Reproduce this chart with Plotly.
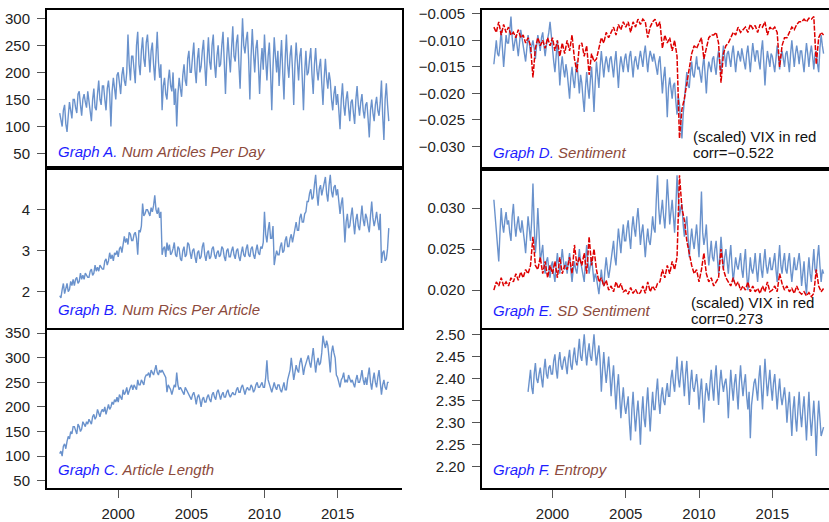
import numpy as np
import plotly.graph_objects as go

W, H = 829, 522
BLUE = "#6A92CC"
RED = "#DD0000"
BROWN = "#8C4A3C"
LABEL_BLUE = "#1E1EFF"

# ---------------- data ----------------
start_main = 1996.0            # monthly series start (Jan 1996)
start_entropy = 1998 + 4 / 12  # entropy starts May 1998
end_year = 2018.5

num_articles = [
    125, 110, 100, 130, 140, 105, 90, 120, 145, 130, 115, 150,
    150, 135, 125, 160, 165, 140, 120, 150, 160, 145, 135, 165,
    145, 125, 110, 150, 170, 135, 130, 160, 185, 150, 140, 175,
    175, 150, 130, 170, 185, 160, 100, 165, 190, 170, 150, 195,
    200, 180, 160, 195, 210, 185, 175, 200, 270, 215, 185, 230,
    230, 205, 180, 250, 275, 215, 195, 240, 265, 225, 210, 255,
    270, 235, 200, 240, 255, 215, 185, 230, 275, 220, 190, 215,
    130, 175, 190, 160, 150, 185, 205, 175, 165, 200, 140, 170,
    100, 160, 190, 170, 155, 195, 215, 185, 175, 225, 240, 200,
    200, 230, 255, 205, 180, 225, 245, 200, 210, 240, 260, 215,
    175, 225, 265, 220, 205, 250, 270, 215, 190, 230, 250, 210,
    215, 250, 275, 220, 160, 225, 265, 230, 200, 245, 285, 230,
    220, 255, 270, 215, 170, 240, 300, 250, 235, 260, 275, 225,
    150, 230, 280, 235, 200, 245, 260, 215, 160, 215, 245, 205,
    270, 225, 185, 230, 255, 200, 130, 210, 265, 230, 200, 240,
    175, 220, 260, 200, 150, 225, 270, 215, 190, 230, 250, 205,
    140, 215, 255, 220, 185, 230, 245, 190, 130, 200, 240, 195,
    200, 225, 245, 195, 160, 215, 245, 205, 185, 210, 225, 180,
    140, 190, 225, 190, 170, 200, 185, 150, 130, 160, 175, 140,
    160, 130, 95, 150, 180, 140, 120, 150, 165, 135, 110, 145,
    150, 125, 105, 150, 175, 140, 120, 145, 160, 130, 115, 140,
    145, 115, 80, 130, 150, 125, 110, 140, 155, 130, 120, 145,
    185, 120, 75, 150, 180, 140, 110,
]

rics_per_article = [
    1.9, 1.85, 2.05, 2.2, 1.95, 2.1, 2.2, 2.0, 2.05, 2.25, 2.15, 2.3,
    2.15, 2.3, 2.35, 2.2, 2.25, 2.45, 2.3, 2.4, 2.3, 2.45, 2.4, 2.35,
    2.35, 2.5, 2.55, 2.4, 2.45, 2.65, 2.5, 2.6, 2.5, 2.65, 2.6, 2.55,
    2.55, 2.75, 2.8, 2.65, 2.75, 2.95, 2.8, 2.9, 2.75, 2.95, 2.9, 3.0,
    2.85, 3.05, 3.1, 2.95, 3.15, 3.35, 3.2, 3.3, 3.15, 3.45, 3.4, 3.25,
    3.25, 3.4, 3.45, 3.3, 2.9, 3.5, 3.45, 3.6, 4.15, 3.85, 3.9, 4.0,
    4.0, 3.9, 3.85, 4.05, 3.95, 4.1, 4.35, 4.0, 3.9, 4.05, 3.8, 3.95,
    2.9, 3.05, 3.1, 2.85, 3.2, 3.0, 3.15, 2.9, 2.95, 3.05, 3.2, 2.9,
    2.85, 3.1, 3.05, 2.8, 2.75, 3.0, 3.1, 2.85, 2.9, 3.2, 3.15, 2.95,
    2.8, 3.0, 3.05, 2.85, 2.7, 2.95, 3.0, 2.8, 2.85, 3.1, 3.2, 2.9,
    2.75, 2.95, 3.0, 2.8, 2.85, 3.05, 3.1, 2.9, 2.8, 2.95, 3.0, 2.85,
    2.9, 3.1, 3.05, 2.85, 2.75, 3.0, 3.05, 2.85, 2.85, 3.0, 3.1, 2.9,
    2.8, 3.0, 3.05, 2.85, 2.75, 2.95, 3.1, 2.9, 2.85, 3.05, 3.15, 2.9,
    2.85, 3.05, 3.1, 2.9, 2.8, 3.0, 3.15, 2.95, 2.9, 3.1, 3.05, 3.2,
    3.95, 3.4, 3.2, 3.5, 3.7, 3.3, 3.3, 3.6, 2.65, 2.85, 3.0, 2.9,
    2.9, 3.1, 3.2, 2.95, 3.0, 3.25, 3.35, 3.1, 3.1, 3.3, 3.4, 3.2,
    3.4, 3.6, 3.7, 3.5, 3.5, 3.8, 3.9, 3.7, 3.7, 3.9, 3.95, 4.2,
    4.2, 4.4, 4.5, 4.25, 4.3, 4.6, 4.85, 4.4, 4.1, 4.5, 4.6, 4.35,
    4.5, 4.7, 4.8, 4.4, 4.2, 4.6, 4.85, 4.45, 4.3, 4.55, 4.6, 4.35,
    4.5, 4.2, 3.9, 4.15, 4.3, 3.8, 3.2, 3.7, 3.9, 3.55, 3.6, 3.85,
    4.05, 3.7, 3.4, 3.75, 3.9, 3.6, 3.5, 3.8, 4.1, 3.75, 3.6, 3.9,
    3.8, 3.6, 3.45, 3.85, 4.2, 3.8, 3.6, 3.75, 3.95, 3.7, 3.5, 3.9,
    2.7, 2.95, 3.0, 2.75, 2.8, 3.05, 3.55,
]

article_length = [
    105, 110, 100, 120, 125, 115, 130, 140, 135, 150, 145, 160,
    160, 150, 145, 165, 160, 150, 155, 170, 165, 160, 170, 165,
    175, 170, 165, 180, 185, 175, 180, 195, 185, 180, 190, 195,
    190, 200, 185, 195, 205, 195, 200, 210, 205, 215, 210, 220,
    210, 225, 220, 215, 235, 225, 230, 240, 225, 235, 240, 245,
    235, 245, 240, 235, 255, 245, 245, 255, 250, 245, 260, 265,
    265, 270, 260, 275, 270, 265, 275, 285, 270, 265, 275, 270,
    275, 270, 265, 260, 230, 245, 240, 235, 225, 235, 245, 240,
    270, 245, 235, 240, 235, 230, 225, 240, 235, 230, 225, 220,
    215, 225, 230, 220, 205, 220, 225, 215, 200, 215, 220, 210,
    210, 220, 225, 215, 210, 225, 230, 220, 215, 230, 235, 225,
    215, 225, 230, 220, 220, 230, 235, 225, 220, 225, 230, 225,
    225, 235, 240, 230, 230, 240, 245, 235, 225, 235, 240, 235,
    235, 245, 240, 230, 235, 245, 250, 240, 240, 245, 250, 240,
    240, 260, 295, 255, 245, 235, 230, 240, 250, 240, 235, 245,
    245, 235, 230, 240, 250, 235, 235, 255, 265, 275, 300, 280,
    255, 270, 285, 275, 270, 290, 300, 285, 265, 280, 290, 300,
    305, 290, 280, 300, 320, 295, 270, 290, 300, 285, 290, 310,
    345, 330, 320, 335, 325, 300, 270, 310, 325, 310, 300, 265,
    260, 250, 240, 255, 260, 270, 250, 255, 250, 265, 255, 250,
    255, 245, 240, 255, 265, 250, 250, 260, 275, 255, 245, 260,
    245, 265, 280, 250, 235, 255, 270, 250, 240, 260, 275, 250,
    225, 245, 255, 240, 235, 250, 250,
]

sentiment = [
    -0.0145, -0.012, -0.010, -0.0125, -0.013, -0.011, -0.008, -0.0115, -0.015, -0.012, -0.009, -0.0105,
    -0.0105, -0.008, -0.0055, -0.0095, -0.012, -0.0105, -0.009, -0.011, -0.013, -0.0105, -0.008, -0.0095,
    -0.011, -0.0125, -0.014, -0.0115, -0.009, -0.0105, -0.0125, -0.011, -0.010, -0.0115, -0.0135, -0.011,
    -0.009, -0.0105, -0.012, -0.0095, -0.0085, -0.011, -0.013, -0.011, -0.010, -0.0085, -0.0065, -0.0095,
    -0.012, -0.014, -0.016, -0.012, -0.010, -0.014, -0.0185, -0.015, -0.013, -0.0155, -0.017, -0.0145,
    -0.016, -0.0185, -0.021, -0.017, -0.015, -0.0175, -0.019, -0.016, -0.014, -0.017, -0.020, -0.0165,
    -0.018, -0.021, -0.0235, -0.019, -0.016, -0.019, -0.021, -0.0175, -0.015, -0.019, -0.0235, -0.018,
    -0.014, -0.0165, -0.019, -0.015, -0.012, -0.0145, -0.017, -0.0145, -0.013, -0.0145, -0.016, -0.0135,
    -0.013, -0.015, -0.017, -0.014, -0.012, -0.0155, -0.019, -0.015, -0.013, -0.0145, -0.016, -0.0135,
    -0.0125, -0.0145, -0.016, -0.013, -0.012, -0.0145, -0.017, -0.014, -0.013, -0.0145, -0.0155, -0.0135,
    -0.012, -0.0135, -0.015, -0.0125, -0.011, -0.0135, -0.016, -0.0135, -0.012, -0.013, -0.014, -0.0125,
    -0.014, -0.0155, -0.0165, -0.014, -0.013, -0.0165, -0.020, -0.017, -0.015, -0.019, -0.0245, -0.019,
    -0.017, -0.019, -0.021, -0.0185, -0.018, -0.0215, -0.024, -0.0205, -0.022, -0.0255, -0.0285, -0.024,
    -0.021, -0.018, -0.016, -0.0185, -0.019, -0.016, -0.014, -0.0165, -0.017, -0.015, -0.013, -0.0155,
    -0.015, -0.0165, -0.018, -0.015, -0.013, -0.0165, -0.020, -0.016, -0.014, -0.015, -0.016, -0.0135,
    -0.013, -0.015, -0.0165, -0.0135, -0.012, -0.0145, -0.016, -0.0135, -0.011, -0.013, -0.015, -0.0125,
    -0.012, -0.0135, -0.015, -0.0125, -0.011, -0.0135, -0.016, -0.0135, -0.012, -0.013, -0.014, -0.0115,
    -0.013, -0.0145, -0.0155, -0.0125, -0.011, -0.0135, -0.016, -0.013, -0.0105, -0.0125, -0.014, -0.012,
    -0.012, -0.014, -0.0155, -0.012, -0.010, -0.014, -0.0185, -0.0145, -0.012, -0.0135, -0.015, -0.0125,
    -0.013, -0.0145, -0.016, -0.0135, -0.011, -0.013, -0.0155, -0.013, -0.012, -0.0135, -0.015, -0.0125,
    -0.012, -0.014, -0.016, -0.0125, -0.010, -0.0125, -0.015, -0.0125, -0.011, -0.0125, -0.0145, -0.012,
    -0.012, -0.014, -0.016, -0.013, -0.0105, -0.0125, -0.015, -0.0125, -0.011, -0.013, -0.0155, -0.0125,
    -0.012, -0.0145, -0.016, -0.0115, -0.009, -0.011, -0.0125,
]

# scaled VIX, 6 samples per year
vix_scaled_sentiment = [
    -0.0075, -0.0085, -0.0065, -0.009, -0.007, -0.0085,
    -0.0075, -0.009, -0.0085, -0.0095, -0.008, -0.0095,
    -0.009, -0.0105, -0.0095, -0.011, -0.017, -0.0115,
    -0.0095, -0.011, -0.010, -0.0115, -0.0095, -0.011,
    -0.0095, -0.012, -0.010, -0.013, -0.0105, -0.0125,
    -0.010, -0.012, -0.009, -0.0135, -0.016, -0.011,
    -0.0105, -0.013, -0.011, -0.0165, -0.0125, -0.014,
    -0.0135, -0.0115, -0.0095, -0.0105, -0.0085, -0.0095,
    -0.0085, -0.0075, -0.009, -0.007, -0.008, -0.0065,
    -0.0075, -0.0065, -0.0085, -0.0065, -0.0075, -0.006,
    -0.007, -0.006, -0.0065, -0.0095, -0.0075, -0.0065,
    -0.006, -0.0075, -0.0065, -0.0115, -0.009, -0.0105,
    -0.0095, -0.012, -0.010, -0.013, -0.0285, -0.023,
    -0.021, -0.018, -0.015, -0.0125, -0.011, -0.0115,
    -0.0105, -0.0095, -0.0135, -0.0115, -0.0095, -0.009,
    -0.009, -0.0085, -0.0105, -0.018, -0.0125, -0.011,
    -0.0105, -0.0095, -0.0085, -0.009, -0.0075, -0.0085,
    -0.008, -0.0075, -0.0085, -0.007, -0.0078, -0.0072,
    -0.0085, -0.007, -0.0075, -0.0065, -0.009, -0.0075,
    -0.008, -0.0075, -0.0085, -0.015, -0.011, -0.0095,
    -0.0095, -0.0085, -0.0075, -0.008, -0.007, -0.0065,
    -0.0065, -0.006, -0.0065, -0.0058, -0.006, -0.0055,
    -0.0145, -0.0095, -0.0085, -0.009,
]

sd_sentiment = [
    0.031, 0.029, 0.0275, 0.0255, 0.0235, 0.027, 0.030, 0.028, 0.027, 0.0285, 0.0295, 0.028,
    0.0285, 0.027, 0.026, 0.029, 0.0305, 0.028, 0.0265, 0.028, 0.029, 0.0275, 0.027, 0.0285,
    0.0275, 0.026, 0.0245, 0.027, 0.029, 0.0275, 0.026, 0.0285, 0.033, 0.028, 0.0245, 0.0265,
    0.030, 0.027, 0.0235, 0.0245, 0.0255, 0.023, 0.022, 0.0235, 0.024, 0.0225, 0.0215, 0.023,
    0.0235, 0.022, 0.021, 0.023, 0.0245, 0.023, 0.022, 0.0235, 0.025, 0.0235, 0.0225, 0.0235,
    0.022, 0.0235, 0.0245, 0.0225, 0.021, 0.0225, 0.0235, 0.0225, 0.022, 0.0235, 0.025, 0.0235,
    0.0225, 0.0215, 0.021, 0.0235, 0.0255, 0.0235, 0.022, 0.023, 0.024, 0.0225, 0.021, 0.022,
    0.0215, 0.0205, 0.0195, 0.021, 0.0225, 0.021, 0.0205, 0.0225, 0.024, 0.0225, 0.0215, 0.0225,
    0.0235, 0.025, 0.026, 0.024, 0.023, 0.0255, 0.0275, 0.026, 0.0245, 0.0265, 0.028, 0.026,
    0.026, 0.0275, 0.0285, 0.0265, 0.025, 0.0275, 0.029, 0.0275, 0.0265, 0.0285, 0.030, 0.028,
    0.0255, 0.027, 0.028, 0.026, 0.024, 0.026, 0.0275, 0.026, 0.0255, 0.027, 0.029, 0.0275,
    0.027, 0.031, 0.034, 0.030, 0.028, 0.0295, 0.031, 0.029, 0.0275, 0.030, 0.0335, 0.031,
    0.028, 0.0295, 0.031, 0.029, 0.027, 0.030, 0.034, 0.0315, 0.029, 0.030, 0.0305, 0.028,
    0.0265, 0.028, 0.029, 0.0265, 0.024, 0.026, 0.0275, 0.026, 0.025, 0.0265, 0.028, 0.026,
    0.024, 0.028, 0.032, 0.027, 0.0255, 0.0265, 0.028, 0.025, 0.023, 0.0245, 0.026, 0.024,
    0.0235, 0.025, 0.026, 0.024, 0.022, 0.024, 0.0265, 0.0245, 0.0225, 0.024, 0.025, 0.0235,
    0.022, 0.024, 0.0255, 0.023, 0.021, 0.0225, 0.024, 0.023, 0.0225, 0.0235, 0.0245, 0.0225,
    0.0215, 0.0235, 0.025, 0.022, 0.020, 0.022, 0.024, 0.0225, 0.022, 0.023, 0.0245, 0.0225,
    0.021, 0.023, 0.0245, 0.0225, 0.0215, 0.0235, 0.025, 0.023, 0.022, 0.023, 0.024, 0.0225,
    0.0225, 0.0235, 0.0245, 0.0225, 0.021, 0.0235, 0.0255, 0.023, 0.022, 0.0235, 0.0245, 0.0225,
    0.022, 0.0235, 0.0245, 0.0225, 0.021, 0.0225, 0.024, 0.0225, 0.0225, 0.0235, 0.0245, 0.023,
    0.0205, 0.022, 0.0235, 0.021, 0.0195, 0.022, 0.024, 0.022, 0.021, 0.023, 0.025, 0.0225,
    0.022, 0.024, 0.0255, 0.023, 0.021, 0.0225, 0.022,
]

vix_scaled_sd = [
    0.020, 0.021, 0.0205, 0.0215, 0.0205, 0.021,
    0.0205, 0.0215, 0.021, 0.022, 0.0212, 0.0222,
    0.0215, 0.0225, 0.022, 0.023, 0.0265, 0.023,
    0.0225, 0.024, 0.022, 0.0235, 0.0215, 0.023,
    0.022, 0.0235, 0.0215, 0.024, 0.022, 0.023,
    0.0225, 0.024, 0.022, 0.0255, 0.023, 0.024,
    0.023, 0.0245, 0.022, 0.0265, 0.023, 0.025,
    0.0225, 0.021, 0.0215, 0.0205, 0.0212, 0.020,
    0.0205, 0.0198, 0.021, 0.0202, 0.0208, 0.0198,
    0.020, 0.0195, 0.0203, 0.0196, 0.0201, 0.0195,
    0.0197, 0.0205, 0.0196, 0.021, 0.0198, 0.0205,
    0.020, 0.0208, 0.021, 0.0225, 0.0215, 0.023,
    0.022, 0.0235, 0.0225, 0.024, 0.034, 0.030,
    0.0285, 0.026, 0.0245, 0.023, 0.022, 0.0225,
    0.021, 0.0225, 0.0245, 0.022, 0.021, 0.0215,
    0.0205, 0.021, 0.0215, 0.025, 0.0225, 0.0215,
    0.021, 0.0205, 0.0215, 0.0205, 0.021, 0.020,
    0.0205, 0.020, 0.021, 0.0198, 0.0205, 0.0198,
    0.0202, 0.0196, 0.0205, 0.0198, 0.021, 0.0198,
    0.020, 0.0205, 0.0198, 0.022, 0.0208, 0.020,
    0.0205, 0.0198, 0.0202, 0.0196, 0.0205, 0.0198,
    0.0195, 0.0198, 0.0193, 0.0197, 0.0192, 0.0196,
    0.0225, 0.0205, 0.0198, 0.0202,
]

entropy = [
    2.37, 2.40, 2.42, 2.38, 2.365, 2.41, 2.435, 2.40,
    2.39, 2.41, 2.425, 2.40, 2.38, 2.42, 2.445, 2.41, 2.40, 2.425, 2.43, 2.41,
    2.41, 2.44, 2.455, 2.42, 2.40, 2.44, 2.46, 2.43, 2.42, 2.44, 2.45, 2.43,
    2.41, 2.445, 2.465, 2.43, 2.42, 2.45, 2.47, 2.44, 2.43, 2.46, 2.49, 2.45,
    2.44, 2.47, 2.50, 2.46, 2.43, 2.46, 2.48, 2.45, 2.44, 2.47, 2.50, 2.46,
    2.43, 2.455, 2.475, 2.44, 2.37, 2.42, 2.46, 2.42, 2.39, 2.42, 2.45, 2.41,
    2.36, 2.40, 2.43, 2.38, 2.33, 2.38, 2.41, 2.36, 2.31, 2.35, 2.38, 2.34,
    2.32, 2.34, 2.36, 2.30, 2.26, 2.33, 2.37, 2.32, 2.28, 2.32, 2.35, 2.31,
    2.25, 2.32, 2.36, 2.31, 2.29, 2.34, 2.38, 2.33, 2.28, 2.33, 2.37, 2.33,
    2.33, 2.37, 2.40, 2.35, 2.32, 2.36, 2.38, 2.35, 2.34, 2.37, 2.39, 2.36,
    2.36, 2.40, 2.42, 2.39, 2.37, 2.41, 2.45, 2.40, 2.38, 2.41, 2.44, 2.40,
    2.36, 2.41, 2.44, 2.39, 2.34, 2.39, 2.42, 2.38, 2.37, 2.39, 2.41, 2.38,
    2.33, 2.37, 2.40, 2.35, 2.30, 2.36, 2.39, 2.37, 2.35, 2.39, 2.42, 2.38,
    2.35, 2.40, 2.43, 2.38, 2.34, 2.39, 2.42, 2.39, 2.37, 2.39, 2.40, 2.37,
    2.31, 2.37, 2.42, 2.38, 2.35, 2.39, 2.41, 2.37, 2.33, 2.39, 2.43, 2.39,
    2.36, 2.39, 2.41, 2.36, 2.33, 2.37, 2.265, 2.34, 2.37, 2.39, 2.40, 2.37,
    2.35, 2.40, 2.43, 2.38, 2.33, 2.39, 2.445, 2.40, 2.36, 2.39, 2.42, 2.38,
    2.35, 2.39, 2.41, 2.37, 2.33, 2.37, 2.40, 2.36, 2.34, 2.36, 2.38, 2.35,
    2.30, 2.34, 2.37, 2.32, 2.27, 2.33, 2.36, 2.31, 2.28, 2.33, 2.37, 2.32,
    2.29, 2.33, 2.36, 2.31, 2.26, 2.32, 2.37, 2.31, 2.27, 2.31, 2.35, 2.30,
    2.225, 2.30, 2.35, 2.31, 2.27, 2.28, 2.29,
]

year_ticks = [2000, 2005, 2010, 2015]

panels = [
    dict(name="A", title="Num Articles Per Day", y=num_articles, red=None,
         start=start_main, yrange=[23.2, 314.5], ticks=[50, 100, 150, 200, 250, 300], fmt="d"),
    dict(name="B", title="Num Rics Per Article", y=rics_per_article, red=None,
         start=start_main, yrange=[1.105, 5.015], ticks=[2, 3, 4], fmt="d"),
    dict(name="C", title="Article Length", y=article_length, red=None,
         start=start_main, yrange=[36, 360], ticks=[50, 100, 150, 200, 250, 300, 350], fmt="d"),
    dict(name="D", title="Sentiment", y=sentiment, red=vix_scaled_sentiment,
         start=start_main, yrange=[-0.0342, -0.00435],
         ticks=[-0.030, -0.025, -0.020, -0.015, -0.010, -0.005], fmt=".3f"),
    dict(name="E", title="SD Sentiment", y=sd_sentiment, red=vix_scaled_sd,
         start=start_main, yrange=[0.0154, 0.0348], ticks=[0.020, 0.025, 0.030], fmt=".3f"),
    dict(name="F", title="Entropy", y=entropy, red=None,
         start=start_entropy, yrange=[2.1533, 2.5149],
         ticks=[2.20, 2.25, 2.30, 2.35, 2.40, 2.45, 2.50], fmt=".2f"),
]

# pixel boxes (left, right, top, bottom) and label centre rows
boxes = {
    "A": (47, 401.5, 5.5, 166), "B": (47, 401.5, 166, 329), "C": (47, 401.5, 329, 491),
    "D": (482, 829, 5.5, 166.5), "E": (482, 829, 166.5, 328.5), "F": (482, 829, 328.5, 491),
}
label_rows = {"A": 149.5, "B": 310, "C": 472.5, "D": 150, "E": 310.5, "F": 473}
xranges = {"A": [1995.13, 2019.37], "B": [1995.13, 2019.37], "C": [1995.13, 2019.37],
           "D": [1995.19, 2018.87], "E": [1995.19, 2018.87], "F": [1995.19, 2018.87]}

FONT = "Liberation Sans, Arial, Helvetica, sans-serif"
fig = go.Figure()
layout = {}
annotations = []

for i, p in enumerate(panels, start=1):
    n = p["name"]
    l, r, t, b = boxes[n]
    sx = "" if i == 1 else str(i)
    xs = np.linspace(p["start"], end_year, len(p["y"]))
    fig.add_trace(go.Scatter(x=xs, y=p["y"], mode="lines", xaxis="x" + sx, yaxis="y" + sx,
                             line=dict(color=BLUE, width=1.4), showlegend=False))
    if p["red"] is not None:
        xr = np.linspace(start_main, end_year, len(p["red"]))
        fig.add_trace(go.Scatter(x=xr, y=p["red"], mode="lines", xaxis="x" + sx, yaxis="y" + sx,
                                 line=dict(color=RED, width=1.5, dash="5px,1.5px"), showlegend=False))
    bottom_row = n in ("C", "F")
    full_box = n in ("A", "B", "D", "E")
    layout["xaxis" + sx] = dict(
        domain=[l / W, r / W], range=xranges[n], anchor="y" + sx,
        showgrid=False, zeroline=False, showline=True, linecolor="black", linewidth=2,
        mirror=full_box,
        ticks="outside" if bottom_row else "", tickvals=year_ticks if bottom_row else [],
        showticklabels=bottom_row, ticklen=8, tickwidth=1.3, tickcolor="#555555",
        ticklabelstandoff=3,
        tickfont=dict(family=FONT, size=15, color="#222222"),
    )
    layout["yaxis" + sx] = dict(
        domain=[1 - b / H, 1 - t / H], range=p["yrange"], anchor="x" + sx,
        showgrid=False, zeroline=False, showline=True, linecolor="black", linewidth=2,
        mirror=n in ("A", "B"),
        ticks="outside", tickvals=p["ticks"], tickformat=p["fmt"],
        ticklen=8, tickwidth=1.3, tickcolor="#555555",
        ticklabelstandoff=4,
        tickfont=dict(family=FONT, size=15, color="#222222"),
    )
    annotations.append(dict(
        xref="paper", yref="paper", x=(l + 9) / W, y=1 - label_rows[n] / H,
        xanchor="left", yanchor="middle", showarrow=False,
        text=f"<i><span style='color:{LABEL_BLUE}'>Graph {n}.</span> "
             f"<span style='color:{BROWN}'>{p['title']}</span></i>",
        font=dict(family=FONT, size=15),
    ))

vix_notes = [("D", "corr=\u22120.522", 134, 150.5), ("E", "corr=0.273", 303, 318.5)]
for n, corr, y1, y2 in vix_notes:
    xl = 691 if n == "D" else 689
    annotations.append(dict(xref="paper", yref="paper", x=xl / W, y=1 - y1 / H,
                            xanchor="left", yanchor="middle", showarrow=False,
                            text="(scaled) VIX in red", font=dict(family=FONT, size=15, color="#111111")))
    annotations.append(dict(xref="paper", yref="paper", x=xl / W, y=1 - y2 / H,
                            xanchor="left", yanchor="middle", showarrow=False,
                            text=corr, font=dict(family=FONT, size=15, color="#111111")))

fig.update_layout(
    width=W, height=H, margin=dict(l=0, r=0, t=0, b=0),
    paper_bgcolor="white", plot_bgcolor="white",
    annotations=annotations, **layout,
)
fig.write_html("out.html", config={"displayModeBar": False})

# remove the default page margin so the figure sits at the window's top-left corner
with open("out.html", "r", encoding="utf-8") as fh:
    html = fh.read()
html = html.replace("<head>", "<head><style>html,body{margin:0;padding:0;overflow:hidden;}</style>", 1)
with open("out.html", "w", encoding="utf-8") as fh:
    fh.write(html)
